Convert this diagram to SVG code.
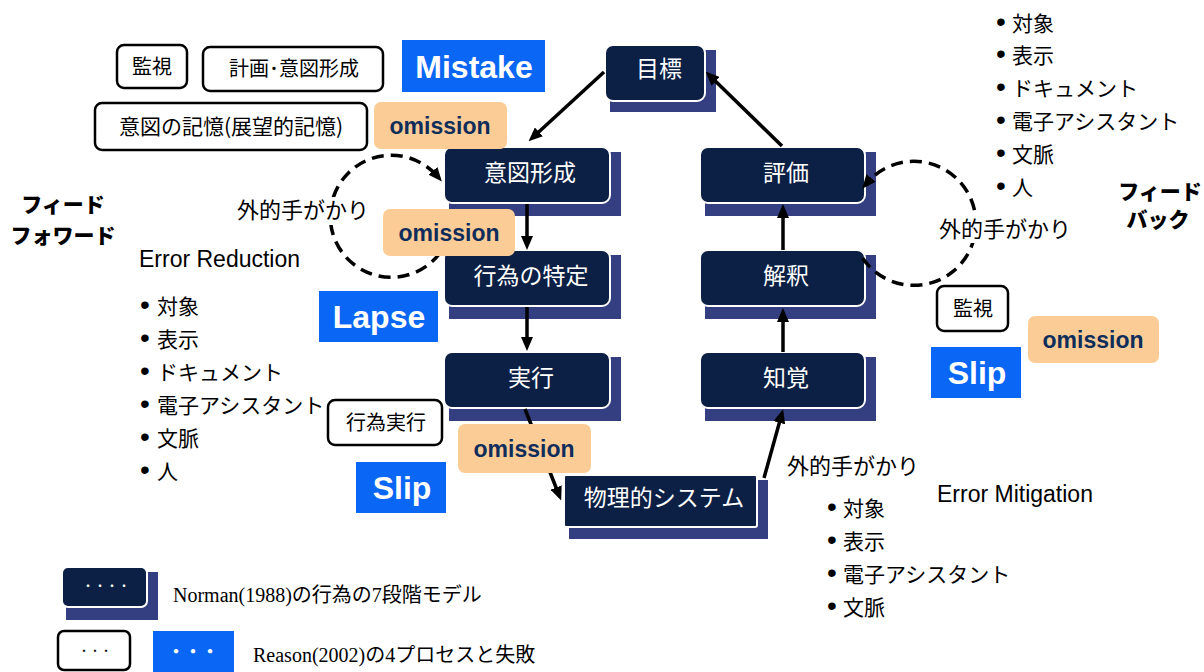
<svg xmlns="http://www.w3.org/2000/svg" width="1204" height="672" viewBox="0 0 1204 672">
<style>
.sh{fill:#333f80}
.bx{fill:#0c1f45;stroke:#fff;stroke-width:2}
.nt{fill:#fff;font-family:"Noto Sans CJK JP",sans-serif;font-size:23px;text-anchor:middle}
.ln{stroke:#000;stroke-width:3.5;fill:none}
.dash{stroke:#000;stroke-width:3.5;fill:none;stroke-dasharray:12 7}
.wb{fill:#fff;stroke:#000;stroke-width:2.5}
.wt{fill:#000;font-family:"Noto Sans CJK JP",sans-serif;font-size:20px;text-anchor:middle}
.blue{fill:#0a66f5}
.bt{fill:#fff;font-family:"Liberation Sans",Arial,sans-serif;font-weight:bold;font-size:32px;text-anchor:middle}
.om{fill:#fccc96}
.ot{fill:#0f2d5a;font-family:"Liberation Sans",Arial,sans-serif;font-weight:bold;font-size:23px;text-anchor:middle}
.jt{fill:#000;font-family:"Noto Sans CJK JP",sans-serif;font-size:22px}
.li{fill:#000;font-family:"Noto Sans CJK JP",sans-serif;font-size:21px}
.bu{font-family:"Liberation Sans",Arial,sans-serif;font-size:28px}
.en{fill:#000;font-family:"Liberation Sans",Arial,sans-serif;font-size:23px}
.fb{fill:#000;font-family:"Noto Sans CJK JP",sans-serif;font-size:21px;font-weight:900;text-anchor:middle}
.lg{fill:#000;font-family:"Liberation Serif","Noto Sans CJK JP",serif;font-size:20px}
</style>
<defs>
<marker id="ah" markerUnits="userSpaceOnUse" markerWidth="14" markerHeight="12" refX="8" refY="6" orient="auto">
<path d="M0,0 L14,6 L0,12 z" fill="#000"/>
</marker>
</defs>
<rect width="1204" height="672" fill="#fff"/>

<g id="node-goal"><rect class="sh" x="610" y="50" width="106" height="62"/><rect class="bx" x="605" y="45" width="100" height="56" rx="8"/><text class="nt" x="659" y="77">目標</text></g>
<g id="node-intent"><rect class="sh" x="449" y="152" width="172" height="64"/><rect class="bx" x="444" y="147" width="166" height="56" rx="8"/><text class="nt" x="530" y="181">意図形成</text></g>
<g id="node-spec"><rect class="sh" x="449" y="255" width="172" height="64"/><rect class="bx" x="444" y="250" width="166" height="56" rx="8"/><text class="nt" x="531" y="284">行為の特定</text></g>
<g id="node-exec"><rect class="sh" x="449" y="357" width="172" height="64"/><rect class="bx" x="444" y="352" width="166" height="56" rx="8"/><text class="nt" x="531" y="386">実行</text></g>
<g id="node-phys"><rect class="sh" x="569" y="480" width="199" height="59"/><rect class="bx" x="564" y="475" width="193" height="52" rx="2"/><text class="nt" x="664" y="506">物理的システム</text></g>
<g id="node-eval"><rect class="sh" x="705" y="152" width="171" height="64"/><rect class="bx" x="700" y="147" width="165" height="56" rx="8"/><text class="nt" x="786" y="181">評価</text></g>
<g id="node-interp"><rect class="sh" x="705" y="255" width="171" height="64"/><rect class="bx" x="700" y="250" width="165" height="56" rx="8"/><text class="nt" x="786" y="284">解釈</text></g>
<g id="node-perc"><rect class="sh" x="705" y="357" width="171" height="64"/><rect class="bx" x="700" y="352" width="165" height="56" rx="8"/><text class="nt" x="786" y="386">知覚</text></g>

<g id="connectors">
<path class="ln" d="M604,72 L533,137.3" marker-end="url(#ah)"/>
<path class="ln" d="M782,146 L709.9,75.8" marker-end="url(#ah)"/>
<path class="ln" d="M527,204 L527,244" marker-end="url(#ah)"/>
<path class="ln" d="M527,307 L527,345" marker-end="url(#ah)"/>
<path class="ln" d="M525,409 L559,495" marker-end="url(#ah)"/>
<path class="ln" d="M764,478 L781.5,415" marker-end="url(#ah)"/>
<path class="ln" d="M783,352 L783,314" marker-end="url(#ah)"/>
<path class="ln" d="M783,250 L783,210" marker-end="url(#ah)"/>
<path class="dash" d="M440,253 A61,61 0 1 1 438,177" marker-end="url(#ah)"/>
<path class="dash" d="M862.5,258 A62,62 0 1 0 866,184" marker-end="url(#ah)"/>
</g>

<g id="label-kanshi1"><rect class="wb" x="117" y="45" width="70" height="43" rx="7"/><text class="wt" x="152" y="74">監視</text></g>
<g id="label-keikaku"><rect class="wb" x="203" y="47" width="180" height="44" rx="7"/><text class="wt" x="294" y="76">計画･意図形成</text></g>
<g id="label-kioku"><rect class="wb" x="95" y="103" width="272" height="47" rx="7"/><text class="wt" x="231" y="134" style="font-size:21px">意図の記憶(展望的記憶)</text></g>
<g id="label-mistake"><rect class="blue" x="402" y="40" width="143" height="52"/><text class="bt" x="474" y="78">Mistake</text></g>
<g id="label-om1"><rect class="om" x="374" y="102" width="133" height="47" rx="7"/><text class="ot" x="440" y="134">omission</text></g>
<g id="label-om2"><rect class="om" x="383" y="209" width="132" height="47" rx="7"/><text class="ot" x="449" y="241">omission</text></g>
<g id="label-lapse"><rect class="blue" x="319" y="291" width="119" height="51"/><text class="bt" x="379" y="328">Lapse</text></g>
<g id="label-koui"><rect class="wb" x="328" y="400" width="114" height="45" rx="7"/><text class="wt" x="386" y="430">行為実行</text></g>
<g id="label-om3"><rect class="om" x="458" y="424" width="133" height="49" rx="7"/><text class="ot" x="524" y="457">omission</text></g>
<g id="label-slip1"><rect class="blue" x="356" y="462" width="90" height="51"/><text class="bt" x="402" y="499">Slip</text></g>
<g id="label-kanshi2"><rect class="wb" x="937" y="286" width="71" height="45" rx="7"/><text class="wt" x="973" y="316">監視</text></g>
<g id="label-om4"><rect class="om" x="1028" y="316" width="131" height="47" rx="7"/><text class="ot" x="1093" y="348">omission</text></g>
<g id="label-slip2"><rect class="blue" x="931" y="347" width="90" height="51"/><text class="bt" x="977" y="384">Slip</text></g>

<g id="cue-left"><rect x="236" y="197" width="140" height="28" fill="#fff"/><text class="jt" x="237" y="218">外的手がかり</text></g>
<g id="cue-right"><rect x="938" y="215" width="142" height="28" fill="#fff"/><text class="jt" x="939" y="237">外的手がかり</text></g>
<g id="cue-bottom"><text class="jt" x="787" y="474">外的手がかり</text></g>

<g id="ff"><text class="fb" x="63" y="212">フィード</text><text class="fb" x="63" y="243">フォワード</text></g>
<g id="fbk"><text class="fb" x="1160" y="199">フィード</text><text class="fb" x="1158" y="227">バック</text></g>

<g id="error-reduction">
<text class="en" x="139" y="267">Error Reduction</text>
<text class="li" y="314"><tspan class="bu" x="140">•</tspan><tspan x="157">対象</tspan></text>
<text class="li" y="347"><tspan class="bu" x="140">•</tspan><tspan x="157">表示</tspan></text>
<text class="li" y="380"><tspan class="bu" x="140">•</tspan><tspan x="157">ドキュメント</tspan></text>
<text class="li" y="413"><tspan class="bu" x="140">•</tspan><tspan x="157">電子アシスタント</tspan></text>
<text class="li" y="446"><tspan class="bu" x="140">•</tspan><tspan x="157">文脈</tspan></text>
<text class="li" y="479"><tspan class="bu" x="140">•</tspan><tspan x="157">人</tspan></text>
</g>

<g id="list-top-right">
<text class="li" y="31"><tspan class="bu" x="996">•</tspan><tspan x="1012">対象</tspan></text>
<text class="li" y="63"><tspan class="bu" x="996">•</tspan><tspan x="1012">表示</tspan></text>
<text class="li" y="96"><tspan class="bu" x="996">•</tspan><tspan x="1012">ドキュメント</tspan></text>
<text class="li" y="129"><tspan class="bu" x="996">•</tspan><tspan x="1012">電子アシスタント</tspan></text>
<text class="li" y="162"><tspan class="bu" x="996">•</tspan><tspan x="1012">文脈</tspan></text>
<text class="li" y="195"><tspan class="bu" x="996">•</tspan><tspan x="1012">人</tspan></text>
</g>

<g id="error-mitigation">
<text class="en" x="937" y="502">Error Mitigation</text>
<text class="li" y="516"><tspan class="bu" x="827">•</tspan><tspan x="843">対象</tspan></text>
<text class="li" y="549"><tspan class="bu" x="827">•</tspan><tspan x="843">表示</tspan></text>
<text class="li" y="582"><tspan class="bu" x="827">•</tspan><tspan x="843">電子アシスタント</tspan></text>
<text class="li" y="615"><tspan class="bu" x="827">•</tspan><tspan x="843">文脈</tspan></text>
</g>

<g id="legend">
<rect class="sh" x="66" y="572" width="92" height="48"/>
<rect class="bx" x="62" y="567" width="85" height="40" rx="6"/>
<text x="106" y="591" fill="#fff" font-family="Noto Sans CJK JP,sans-serif" font-size="12" text-anchor="middle">・・・・</text>
<text class="lg" x="173" y="602">Norman(1988)の行為の7段階モデル</text>
<rect class="wb" x="58" y="631" width="72" height="39" rx="6"/>
<text x="95" y="655" fill="#000" font-family="Noto Sans CJK JP,sans-serif" font-size="11" text-anchor="middle">・・・</text>
<rect class="blue" x="153" y="631" width="81" height="41"/>
<text x="193" y="658" fill="#fff" font-family="Noto Sans CJK JP,sans-serif" font-size="17" font-weight="bold" text-anchor="middle">・・・</text>
<text class="lg" x="253" y="662">Reason(2002)の4プロセスと失敗</text>
</g>
</svg>
